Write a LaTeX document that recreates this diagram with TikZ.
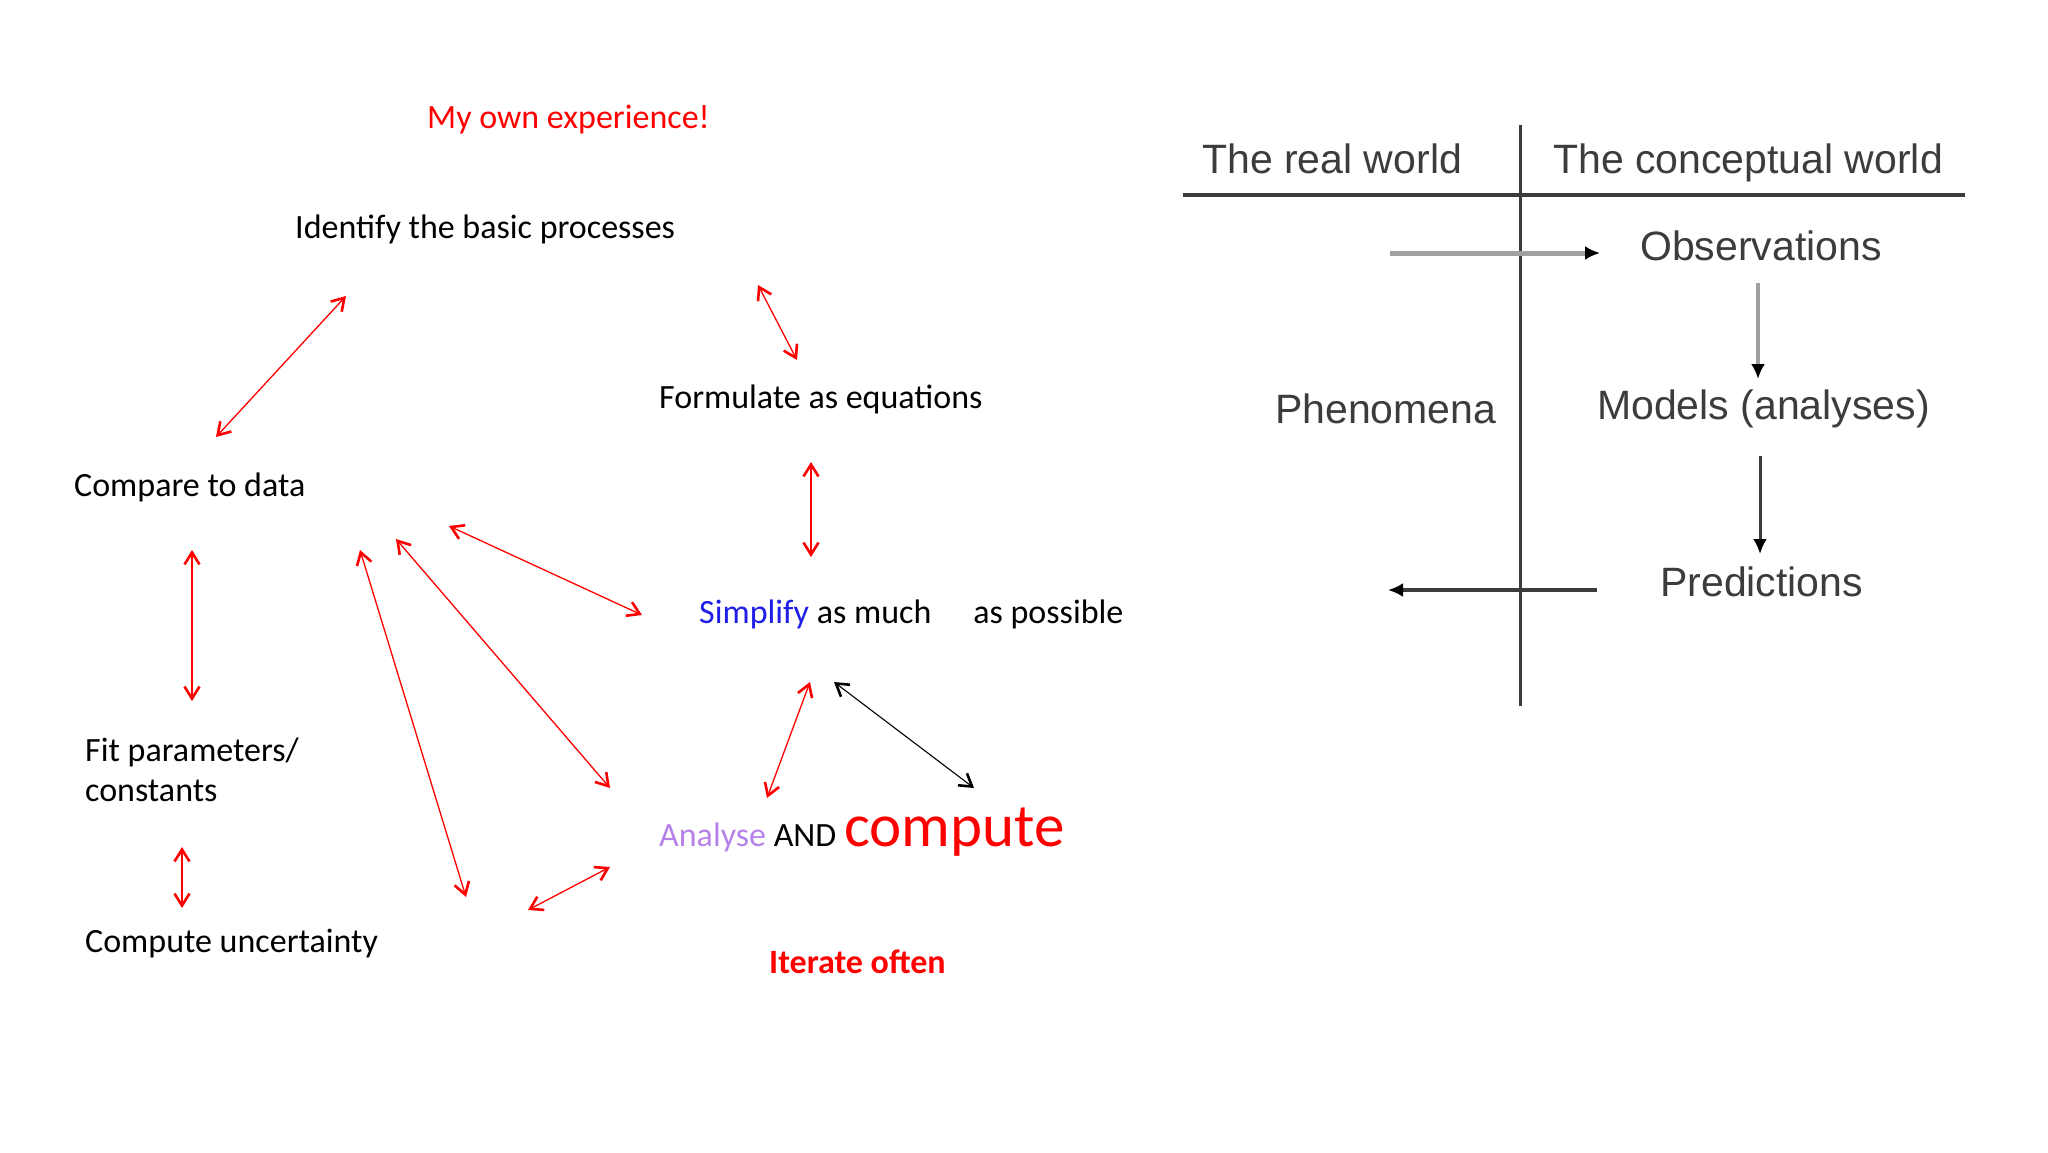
\documentclass[tikz,border=0pt]{standalone}
\usepackage{fontspec}
\setmainfont{Carlito}
\newfontfamily\arialfont{Liberation Sans}
\usetikzlibrary{arrows.meta}
\definecolor{expred}{RGB}{255,0,0}
\definecolor{simpblue}{RGB}{30,30,230}
\definecolor{analpurple}{RGB}{182,130,232}
\definecolor{worldgray}{RGB}{60,60,60}
\definecolor{shaftgray}{RGB}{160,160,160}
\tikzset{
  lbl/.style={anchor=base west, inner sep=0pt, font=\fontsize{34}{40}\selectfont},
  wlbl/.style={anchor=base west, inner sep=0pt, text=worldgray,
    font=\arialfont\fontsize{41}{48}\selectfont},
  barb/.tip={Straight Barb[length=12pt,width=15pt,line width=2.6pt]},
  iter/.style={expred, line width=1.3pt, barb-barb},
  flow/.style={line width=4pt, -{Latex[length=15pt,width=14pt,color=black]}},
}
\begin{document}
\begin{tikzpicture}[x=1pt,y=-1pt]
  \useasboundingbox (0,0) rectangle (2048,1152);
  % left: the working loop
  \draw
    (427,128) node[lbl,text=expred] (own){My own experience!}
    (295,238) node[lbl] (identify){Identify the basic processes}
    (659,408) node[lbl] (formulate){Formulate as equations}
    (74,496) node[lbl] (compare){Compare to data}
    (699,623) node[lbl] (simplify){{\color{simpblue}Simplify} as much\hspace*{42pt}as possible}
    (85,738) node[lbl,align=left,anchor=north west] (fit){Fit parameters/\\constants}
    (85,952) node[lbl] (uncert){Compute uncertainty}
    (659,846) node[lbl] (analyse){{\color{analpurple}Analyse} AND {\color{expred}\fontsize{61}{70}\selectfont compute}}
    (769,973) node[lbl,font=\fontsize{34}{40}\selectfont\bfseries,text=expred] (often){Iterate often};
  \coordinate (ca1) at (346,296);  \coordinate (cb1) at (216,437);
  \coordinate (ca2) at (758,285);  \coordinate (cb2) at (797,360);
  \coordinate (ca3) at (811,462);  \coordinate (cb3) at (811,557);
  \coordinate (ca4) at (192,550);  \coordinate (cb4) at (192,701);
  \coordinate (ca5) at (449,526);  \coordinate (cb5) at (642,615);
  \coordinate (ca6) at (396,539);  \coordinate (cb6) at (610,788);
  \coordinate (ca7) at (360,550);  \coordinate (cb7) at (466,897);
  \coordinate (ca8) at (528,910);  \coordinate (cb8) at (610,867);
  \coordinate (ca9) at (810,682);  \coordinate (cb9) at (767,798);
  \coordinate (ca10) at (834,682); \coordinate (cb10) at (974,788);
  \coordinate (ca11) at (182,847); \coordinate (cb11) at (182,908);
  \begin{scope}[iter]
    \draw (ca1) to (cb1);
    \draw (ca2) to (cb2);
    \draw (ca3) to (cb3);
    \draw (ca4) to (cb4);
    \draw (ca5) to (cb5);
    \draw (ca6) to (cb6);
    \draw (ca7) to (cb7);
    \draw (ca8) to (cb8);
    \draw (ca9) to (cb9);
    \draw (ca11) to (cb11);
  \end{scope}
  \draw[iter,black,line width=1.1pt] (ca10) to (cb10);
  % right: real world vs conceptual world
  \draw
    (1202,173) node[wlbl] (real){The real world}
    (1553,173) node[wlbl] (concept){The conceptual world}
    (1640,260) node[wlbl] (obs){Observations}
    (1275,423) node[wlbl] (phen){Phenomena}
    (1597,419) node[wlbl] (models){Models (analyses)}
    (1660,596) node[wlbl] (pred){Predictions};
  \coordinate (vtop) at (1520,125);   \coordinate (vbot) at (1520,706);
  \coordinate (hleft) at (1183,195);  \coordinate (hright) at (1965,195);
  \coordinate (obsin) at (1390,253);  \coordinate (obsout) at (1600,253);
  \coordinate (modin) at (1758,283);  \coordinate (modout) at (1758,379);
  \coordinate (predin) at (1760,456); \coordinate (predout) at (1760,554);
  \coordinate (backin) at (1597,590); \coordinate (backout) at (1388,590);
  \draw[worldgray,line width=3pt] (vtop) -- (vbot);
  \draw[worldgray,line width=4pt] (hleft) -- (hright);
  \draw[flow,shaftgray,line width=5pt] (obsin) -- (obsout);
  \draw[flow,shaftgray] (modin) -- (modout);
  \draw[flow,worldgray,line width=3pt] (predin) -- (predout);
  \draw[flow,worldgray] (backin) -- (backout);
\end{tikzpicture}
\end{document}
